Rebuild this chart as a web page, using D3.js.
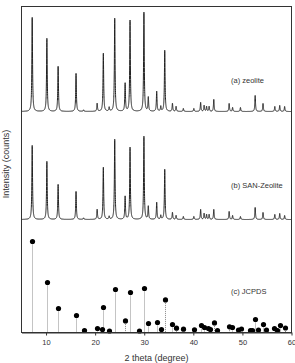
<!DOCTYPE html>
<html>
<head>
<meta charset="utf-8">
<script src="https://cdn.jsdelivr.net/npm/d3@7"></script>
<style>
  body { margin: 0; background: #fff; }
  svg text { font-family: "Liberation Sans", Arial, sans-serif; fill: #333; }
</style>
</head>
<body>
<div id="graphic"></div>
<script>
// Peak positions (2 theta) shared by the two measured patterns
var peakPos = [7.18, 10.17, 12.46, 16.11, 17.64, 20.41, 21.67, 22.86, 23.99, 26.11,
  27.11, 29.94, 30.83, 32.54, 33.37, 34.18, 35.75, 36.49, 37.97, 40.11,
  41.49, 42.2, 42.7, 43.22, 44.17, 47.3, 48.0, 49.6, 52.6, 54.2,
  56.6, 57.6, 58.6];

// (a) zeolite peak intensities
var zeoliteI = [94, 73, 45, 38, 1.5, 8, 58, 4, 93, 28,
  91, 99, 14, 20, 5, 61, 8, 5, 3, 3,
  9, 6, 5, 5, 12, 8, 4, 4, 16, 8,
  5, 6, 5];

// (b) SAN-Zeolite peak intensities
var sanI = [74, 58, 35, 28, 1.5, 10, 52, 3, 80, 23,
  72, 83, 13, 17, 4, 50, 7, 4, 3, 3,
  10, 6, 5, 5, 10, 8, 4, 3, 12, 7,
  5, 6, 4];

// (c) JCPDS reference lines
var jcpdsPos = [7.18, 10.17, 12.46, 16.11, 17.64, 20.41, 21.38, 21.67, 22.86, 23.99,
  26.11, 27.11, 29.0, 29.94, 30.83, 32.54, 33.37, 34.18, 35.75, 36.49,
  37.97, 40.11, 41.49, 42.2, 42.89, 43.42, 44.17, 44.84, 47.3, 47.97,
  49.1, 49.79, 51.48, 52.03, 52.6, 53.16, 54.2, 54.87, 56.41, 57.02,
  57.6, 58.6];
var jcpdsI = [90, 49, 23, 16, 1, 3, 2, 24, 0.5, 42,
  10.6, 39, 0.5, 43, 8, 9, 2, 31.6, 7, 3.3,
  2.3, 1.7, 6, 4, 3, 2, 8.6, 1, 4.7, 4,
  1.5, 2.5, 1, 1, 12, 1.5, 7, 1.5, 3, 1,
  6, 3.5];

var xTicks = [10, 20, 30, 40, 50, 60];
var panelLabels = ['(a) zeolite', '(b) SAN-Zeolite', '(c) JCPDS'];

var render = function () {
  var width = 295, height = 363;
  var left = 21.5, right = 291.5, top = 6.5, bottom = 332.5;

  var svg = d3.select('#graphic').append('svg')
    .attr('width', width)
    .attr('height', height);

  var x = d3.scaleLinear().domain([5, 60]).range([left, right]);
  var y = d3.scaleLinear().domain([0, 326]).range([bottom, top]);

  // vertical offsets of the stacked patterns
  var offA = 221, offB = 113, offC = 0;

  // Lorentzian profile built from the peak table
  var hw = 0.08;
  var profile = function (pos, inten) {
    var pts = [];
    for (var t = 5; t <= 60.001; t += 0.01) {
      var s = 0;
      for (var i = 0; i < pos.length; i++) {
        var d = (t - pos[i]) / hw;
        s += inten[i] / (1 + d * d);
      }
      pts.push([t, s]);
    }
    return pts;
  };

  var lineFor = function (off) {
    return d3.line()
      .x(function (d) { return x(d[0]); })
      .y(function (d) { return y(d[1] + off); });
  };

  svg.append('clipPath').attr('id', 'clip')
    .append('rect')
    .attr('x', left).attr('y', top)
    .attr('width', right - left).attr('height', bottom - top);

  var plot = svg.append('g').attr('clip-path', 'url(#clip)');

  plot.append('path')
    .attr('d', lineFor(offA)(profile(peakPos, zeoliteI)))
    .attr('fill', 'none')
    .attr('stroke', '#222')
    .attr('stroke-width', 1);

  plot.append('path')
    .attr('d', lineFor(offB)(profile(peakPos, sanI)))
    .attr('fill', 'none')
    .attr('stroke', '#222')
    .attr('stroke-width', 1);

  // JCPDS sticks
  var sticks = jcpdsPos.map(function (p, i) { return { pos: p, val: jcpdsI[i] }; });

  plot.selectAll('.drop')
    .data(sticks)
    .enter().append('line')
    .attr('class', 'drop')
    .attr('x1', function (d) { return Math.round(x(d.pos)) + 0.5; })
    .attr('x2', function (d) { return Math.round(x(d.pos)) + 0.5; })
    .attr('y1', function (d) { return y(d.val + offC); })
    .attr('y2', y(offC))
    .attr('stroke', '#888')
    .attr('stroke-width', 1)
    .attr('stroke-dasharray', '1,1');

  svg.selectAll('.dot')
    .data(sticks)
    .enter().append('circle')
    .attr('class', 'dot')
    .attr('cx', function (d) { return Math.round(x(d.pos)) + 0.5; })
    .attr('cy', function (d) { return y(d.val + offC) - 1; })
    .attr('r', 2.6)
    .attr('fill', '#000');

  // frame
  svg.append('rect')
    .attr('x', left).attr('y', top)
    .attr('width', right - left).attr('height', bottom - top)
    .attr('fill', 'none')
    .attr('stroke', '#333')
    .attr('stroke-width', 1);

  // x axis
  var xAxis = svg.append('g')
    .attr('transform', 'translate(0,' + bottom + ')')
    .call(d3.axisBottom(x).tickValues(xTicks).tickSize(3).tickSizeOuter(0).tickPadding(4));
  xAxis.select('.domain').attr('stroke', '#333');
  xAxis.selectAll('.tick line').attr('stroke', '#333');
  xAxis.selectAll('text')
    .style('font-family', '"Liberation Sans", Arial, sans-serif')
    .style('font-size', '7.5px')
    .attr('fill', '#333');

  svg.append('text')
    .attr('x', (left + right) / 2)
    .attr('y', 361)
    .attr('text-anchor', 'middle')
    .style('font-size', '9px')
    .text('2 theta (degree)');

  svg.append('text')
    .attr('transform', 'translate(9,' + 164 + ') rotate(-90)')
    .attr('text-anchor', 'middle')
    .style('font-size', '9px')
    .text('Intensity (counts)');

  // panel labels
  var labelY = [83, 188, 294];
  svg.selectAll('.plabel')
    .data(panelLabels)
    .enter().append('text')
    .attr('class', 'plabel')
    .attr('x', 231)
    .attr('y', function (d, i) { return labelY[i]; })
    .style('font-size', '7.5px')
    .text(function (d) { return d; });
};

window.onload = render;
</script>
</body>
</html>
